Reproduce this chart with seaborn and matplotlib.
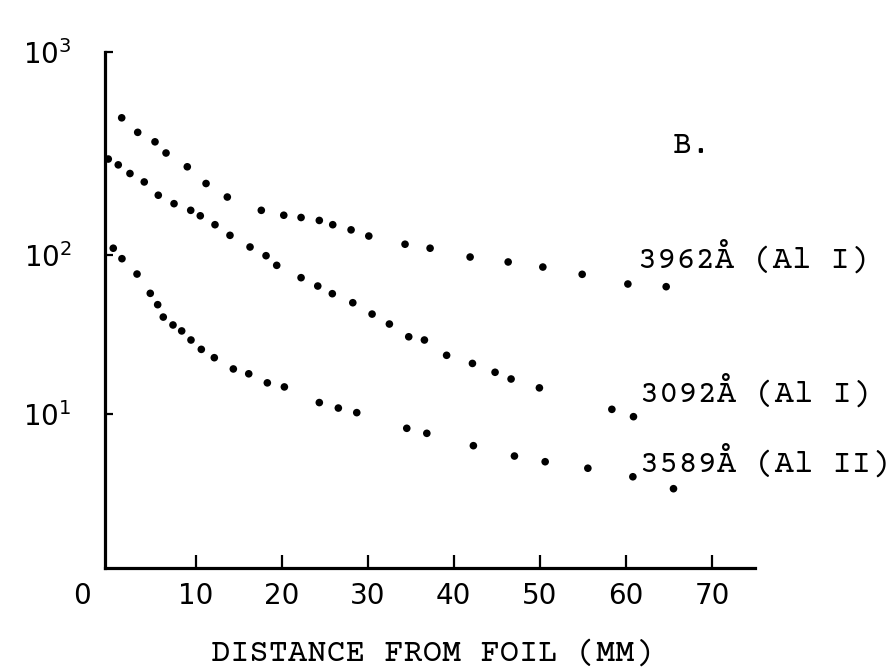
import numpy as np
import pandas as pd
import matplotlib
matplotlib.use("Agg")
import matplotlib.pyplot as plt
import matplotlib.transforms as mtransforms
from matplotlib.ticker import NullLocator
import seaborn as sns

# ---- data ----
x_3962 = [1.42, 3.28, 5.29, 6.57, 9.04, 11.22, 13.69, 17.64, 20.25, 22.26, 24.38,
          25.94, 28.07, 30.13, 34.34, 37.25, 41.90, 46.32, 50.35, 54.92, 60.23, 64.68]
y_3962 = [474, 402, 361, 318, 272, 225, 193, 166, 157, 153, 148,
          141, 133, 124, 113, 108, 97.1, 90.4, 84.0, 75.6, 65.7, 63.2]

x_3092 = [-0.14, 1.02, 2.38, 4.04, 5.67, 7.50, 9.44, 10.55, 12.26, 14.00, 16.33,
          18.19, 19.43, 22.26, 24.20, 25.89, 28.27, 30.51, 32.52, 34.77, 36.59,
          39.17, 42.17, 44.80, 46.66, 49.95, 58.37, 60.88]
y_3092 = [297, 278, 252, 229, 197, 179, 166, 156, 141, 125, 109.5,
          99.0, 86.1, 72.0, 63.8, 57.1, 50.1, 42.5, 36.8, 30.6, 29.2,
          23.4, 20.8, 18.3, 16.6, 14.6, 10.7, 9.62]

x_3589 = [0.44, 1.45, 3.20, 4.74, 5.60, 6.25, 7.38, 8.39, 9.47, 10.67, 12.18,
          14.39, 16.18, 18.34, 20.32, 24.38, 26.59, 28.73, 34.54, 36.87, 42.28,
          47.05, 50.62, 55.58, 60.81, 65.53]
y_3589 = [108, 94.8, 75.9, 57.4, 48.7, 40.7, 36.3, 33.3, 29.2, 25.5, 22.6,
          19.2, 17.9, 15.7, 14.8, 11.8, 10.9, 10.2, 8.13, 7.56, 6.32,
          5.44, 5.01, 4.56, 4.03, 3.39]

series_labels = ["3962Å (Al I)", "3092Å (Al I)", "3589Å (Al II)"]
x_ticks = [0, 10, 20, 30, 40, 50, 60, 70]
y_ticks = [10, 100, 1000]
y_tick_labels = [r"$10^{1}$", r"$10^{2}$", r"$10^{3}$"]
x_label = "DISTANCE FROM FOIL (MM)"
panel_label = "B."

df = pd.concat([
    pd.DataFrame({"x": x_3962, "y": y_3962, "line": series_labels[0]}),
    pd.DataFrame({"x": x_3092, "y": y_3092, "line": series_labels[1]}),
    pd.DataFrame({"x": x_3589, "y": y_3589, "line": series_labels[2]}),
])

sns.set_style("white")
plt.rcParams["font.family"] = ["DejaVu Sans"]
mono = ["Courier Prime", "Cutive Mono", "Liberation Mono", "DejaVu Sans Mono"]

W, H = 894, 670
fig = plt.figure(figsize=(W / 100, H / 100), dpi=100)
# axes box in pixels: left 105, right 755, top 52, bottom 568
ax = fig.add_axes([105 / W, 1 - 568 / H, (755 - 105) / W, (568 - 52) / H])

# hand-drawn log axis: decade lengths differ, emulate with a piecewise log scale
LA = np.array([-2.0, 1.0, 2.0, 3.0, 6.0])
SA = np.array([154 - 3 * 159, 154, 313, 516, 516 + 3 * 203], dtype=float)

def fwd(v):
    v = np.asarray(v, dtype=float)
    return np.interp(np.log10(np.clip(v, 1e-12, None)), LA, SA)

def inv(s):
    s = np.asarray(s, dtype=float)
    return 10 ** np.interp(s, SA, LA)

ax.set_yscale("function", functions=(fwd, inv))

sns.scatterplot(data=df, x="x", y="y", hue="line",
                palette=["black", "black", "black"], s=30, linewidth=0,
                legend=False, ax=ax, zorder=3, clip_on=False)

ax.set_xlim(-0.52, 75.0)
ax.set_ylim(10 ** (1 - 154 / 159), 1000)

for s in ["top", "right"]:
    ax.spines[s].set_visible(False)
for s in ["left", "bottom"]:
    ax.spines[s].set_color("black")
    ax.spines[s].set_linewidth(2.3)

ax.set_xticks(x_ticks)
ax.set_xticklabels([str(t) for t in x_ticks], fontsize=20)
ax.set_yticks(y_ticks)
ax.set_yticklabels(y_tick_labels, fontsize=20)
ax.yaxis.set_minor_locator(NullLocator())
ax.xaxis.set_minor_locator(NullLocator())
ax.tick_params(axis="x", direction="in", length=9.5, width=1.6, pad=10,
               bottom=True, top=False, colors="black")
ax.tick_params(axis="y", direction="in", length=6, width=1.6, pad=24,
               left=True, right=False, colors="black")
ax.set_xlabel("")
ax.set_ylabel("")

# "0" sits left of the corner, with no visible tick
t0 = ax.xaxis.get_major_ticks()[0]
t0.tick1line.set_visible(False)
off = mtransforms.ScaledTranslation(-27 / 100, 0, fig.dpi_scale_trans)
t0.label1.set_transform(t0.label1.get_transform() + off)

# texts (monospace typewriter style)
fig.text(432 / W, 1 - 653 / H, x_label, family=mono, fontsize=23,
         ha="center", va="center", color="black")
fig.text(673 / W, 1 - 153 / H, panel_label, family=mono, fontsize=23,
         ha="left", va="baseline", color="black")
for lab, xpx, ypx in zip(series_labels, [638, 640, 640], [268, 402, 472]):
    fig.text(xpx / W, 1 - ypx / H, lab, family=mono, fontsize=23,
             ha="left", va="baseline", color="black")

fig.savefig("out.png", dpi=100)
